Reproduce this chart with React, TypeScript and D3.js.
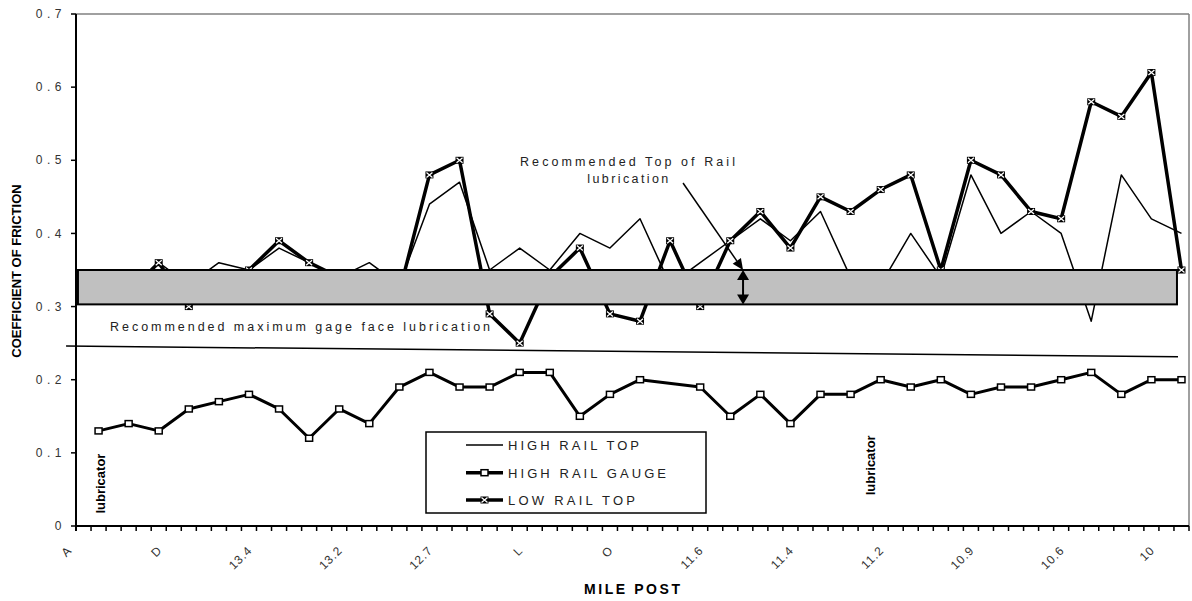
import React from "react";
import * as d3 from "d3";

// ---------- data ----------
const categoryCount = 74; // category slots on the axis (data on every other slot)
const tickLabels = ["A", "D", "13.4", "13.2", "12.7", "L", "O", "11.6", "11.4", "11.2", "10.9", "10.6", "10"];
const tickLabelEvery = 6;
const yTicks = [0, 0.1, 0.2, 0.3, 0.4, 0.5, 0.6, 0.7];

const highRailTop = [0.34, 0.32, 0.36, 0.33, 0.36, 0.35, 0.38, 0.36, 0.34, 0.36, 0.33, 0.44, 0.47, 0.35, 0.38, 0.35, 0.40, 0.38, 0.42, 0.33, 0.36, 0.39, 0.42, 0.39, 0.43, 0.34, 0.33, 0.40, 0.34, 0.48, 0.40, 0.43, 0.40, 0.28, 0.48, 0.42, 0.40];
const highRailGauge: (number | null)[] = [0.13, 0.14, 0.13, 0.16, 0.17, 0.18, 0.16, 0.12, 0.16, 0.14, 0.19, 0.21, 0.19, 0.19, 0.21, 0.21, 0.15, 0.18, 0.20, null, 0.19, 0.15, 0.18, 0.14, 0.18, 0.18, 0.20, 0.19, 0.20, 0.18, 0.19, 0.19, 0.20, 0.21, 0.18, 0.20, 0.20];
const lowRailTop = [0.33, 0.32, 0.36, 0.30, 0.34, 0.35, 0.39, 0.36, 0.34, 0.33, 0.32, 0.48, 0.50, 0.29, 0.25, 0.34, 0.38, 0.29, 0.28, 0.39, 0.30, 0.39, 0.43, 0.38, 0.45, 0.43, 0.46, 0.48, 0.35, 0.50, 0.48, 0.43, 0.42, 0.58, 0.56, 0.62, 0.35];
const seriesNames = ["HIGH RAIL TOP", "HIGH RAIL GAUGE", "LOW RAIL TOP"];

// annotations (category units on x, friction values on y)
const torBand = { x0: 0.13, x1: 73.2, y0: 0.303, y1: 0.35 };
const gageLimitLine = { x0: -0.66, x1: 73.27, y0: 0.246, y1: 0.2315 };
const torArrow = { x0: 40.36, y0: 0.469, x1: 44.35, y1: 0.35 };
const lubricatorMarks = [
  { x: 1.95, y: 0.017 },
  { x: 53.1, y: 0.042 },
];

const W = 1192;
const H = 601;
const left = 76;
const right = 1189;
const top = 14;
const bottom = 526;
const FONT = "'Liberation Sans', Arial, Helvetica, sans-serif";

export default function App() {
  const x = d3.scaleBand<number>().domain(d3.range(categoryCount)).range([left, right]).padding(0);
  const xl = d3.scaleLinear().domain([0, categoryCount]).range([left, right]);
  const y = d3.scaleLinear().domain([0, 0.7]).range([bottom, top]);
  const cx = (i: number) => (x(i) as number) + x.bandwidth() / 2;
  const px = (k: number) => cx(2 * k + 1);

  const pts = (arr: (number | null)[]) =>
    arr.map((v, k) => ({ k, v })).filter((d) => d.v !== null) as { k: number; v: number }[];

  const line = d3
    .line<{ k: number; v: number }>()
    .x((d) => px(d.k))
    .y((d) => y(d.v));

  const hrt = pts(highRailTop);
  const hrg = pts(highRailGauge);
  const lrt = pts(lowRailTop);

  // TOR arrow geometry
  const ax0 = xl(torArrow.x0), ay0 = y(torArrow.y0), ax1 = xl(torArrow.x1), ay1 = y(torArrow.y1);
  const len = Math.hypot(ax1 - ax0, ay1 - ay0);
  const ux = (ax1 - ax0) / len, uy = (ay1 - ay0) / len;
  const hl = 11, hw = 5;
  const bx = ax1 - ux * hl, by = ay1 - uy * hl;
  const head = `M${ax1},${ay1}L${bx - uy * hw},${by + ux * hw}L${bx + uy * hw},${by - ux * hw}Z`;

  const dax = xl(torArrow.x1);
  const dTop = y(torBand.y1);
  const dBot = y(torBand.y0);

  const xMarker = (mx: number, my: number, key: any) => (
    <g key={key} transform={`translate(${mx},${my})`}>
      <rect x={-4} y={-3.5} width={8} height={7} fill="#000" />
      <path d="M-3,-2.5L3,2.5M-3,2.5L3,-2.5" stroke="#fff" strokeWidth={1.3} />
    </g>
  );
  const sqMarker = (mx: number, my: number, key: any) => (
    <rect key={key} x={mx - 3.5} y={my - 3} width={7} height={6} fill="#fff" stroke="#000" strokeWidth={1.5} />
  );

  const legX0 = 466, legX1 = 503, legTextX = 508;
  const legRows = [445, 472.7, 500];
  const legLens = [131, 158, 127];

  return (
    <svg width={W} height={H} style={{ position: "absolute", left: 0, top: 0, background: "#fff" }} fontFamily={FONT}>
      <rect x={0} y={0} width={W} height={H} fill="#fff" />

      {/* series */}
      <path d={line(hrt) || ""} fill="none" stroke="#000" strokeWidth={1.5} strokeLinejoin="round" />
      <path d={line(lrt) || ""} fill="none" stroke="#000" strokeWidth={3.5} strokeLinejoin="round" />
      {lrt.map((d) => xMarker(px(d.k), y(d.v), "l" + d.k))}
      <path d={line(hrg) || ""} fill="none" stroke="#000" strokeWidth={3} strokeLinejoin="round" />
      {hrg.map((d) => sqMarker(px(d.k), y(d.v), "g" + d.k))}

      {/* recommended top-of-rail band */}
      <rect
        x={xl(torBand.x0)}
        y={y(torBand.y1)}
        width={xl(torBand.x1) - xl(torBand.x0)}
        height={y(torBand.y0) - y(torBand.y1)}
        fill="#c0c0c0"
        stroke="#000"
        strokeWidth={2}
      />

      {/* gage face limit line */}
      <line
        x1={xl(gageLimitLine.x0)}
        y1={y(gageLimitLine.y0)}
        x2={xl(gageLimitLine.x1)}
        y2={y(gageLimitLine.y1)}
        stroke="#000"
        strokeWidth={1.5}
      />
      <text x={110} y={331} fontSize={12.5} fill="#222" textLength={380} lengthAdjust="spacing">
        Recommended maximum gage face lubrication
      </text>

      {/* TOR annotation */}
      <text x={520} y={165.7} fontSize={12.5} fill="#222" textLength={215} lengthAdjust="spacing">
        Recommended Top of Rail
      </text>
      <text x={587.3} y={183.3} fontSize={12.5} fill="#222" textLength={81} lengthAdjust="spacing">
        lubrication
      </text>
      <line x1={ax0} y1={ay0} x2={bx} y2={by} stroke="#000" strokeWidth={1.5} />
      <path d={head} fill="#000" />
      <line x1={dax} y1={dTop + 8} x2={dax} y2={dBot - 8} stroke="#000" strokeWidth={2} />
      <path d={`M${dax},${dTop}L${dax - 6},${dTop + 10}L${dax + 6},${dTop + 10}Z`} fill="#000" />
      <path d={`M${dax},${dBot}L${dax - 6},${dBot - 10}L${dax + 6},${dBot - 10}Z`} fill="#000" />

      {/* lubricator labels */}
      {lubricatorMarks.map((m, i) => (
        <text
          key={i}
          transform={`translate(${xl(m.x)},${y(m.y)}) rotate(-90)`}
          fontSize={13}
          fontWeight="bold"
          fill="#000"
        >
          lubricator
        </text>
      ))}

      {/* frame */}
      <line x1={left} y1={top} x2={right} y2={top} stroke="#808080" strokeWidth={1.5} />
      <line x1={right} y1={top} x2={right} y2={bottom} stroke="#808080" strokeWidth={1.5} />
      <line x1={left} y1={top} x2={left} y2={bottom + 5} stroke="#000" strokeWidth={2} />
      <line x1={left - 1} y1={bottom} x2={right} y2={bottom} stroke="#000" strokeWidth={2} />

      {/* y axis */}
      {yTicks.map((t) => (
        <g key={t}>
          <line x1={left - 5} x2={left} y1={y(t)} y2={y(t)} stroke="#000" strokeWidth={1.5} />
          <text x={66} y={y(t)} dy="0.35em" textAnchor="end" fontSize={12} letterSpacing={4.5} fill="#333">
            {d3.format(".1~f")(t)}
          </text>
        </g>
      ))}

      {/* x axis ticks */}
      {d3.range(categoryCount + 1).map((i) => (
        <line key={i} x1={xl(i)} x2={xl(i)} y1={bottom} y2={bottom + 5} stroke="#000" strokeWidth={1.5} />
      ))}
      {tickLabels.map((lab, j) => (
        <text
          key={lab + j}
          transform={`translate(${cx(j * tickLabelEvery) - 11},${551}) rotate(-45)`}
          textAnchor="end"
          fontSize={12}
          letterSpacing={1}
          fill="#333"
        >
          {lab}
        </text>
      ))}

      {/* axis titles */}
      <text
        transform={`translate(21,${(top + bottom) / 2 + 1}) rotate(-90)`}
        textAnchor="middle"
        fontSize={13}
        fontWeight="bold"
        fill="#000"
      >
        COEFFICIENT OF FRICTION
      </text>
      <text x={584} y={594} fontSize={14} fontWeight="bold" fill="#000" textLength={96} lengthAdjust="spacing">
        MILE POST
      </text>

      {/* legend */}
      <rect x={426} y={432} width={280} height={81} fill="#fff" stroke="#000" strokeWidth={1.5} />
      <line x1={legX0} x2={legX1} y1={legRows[0]} y2={legRows[0]} stroke="#000" strokeWidth={1.5} />
      <line x1={legX0} x2={legX1} y1={legRows[1]} y2={legRows[1]} stroke="#000" strokeWidth={3.5} />
      {sqMarker((legX0 + legX1) / 2, legRows[1], "lg")}
      <line x1={legX0} x2={legX1} y1={legRows[2]} y2={legRows[2]} stroke="#000" strokeWidth={3.5} />
      {xMarker((legX0 + legX1) / 2, legRows[2], "ll")}
      {seriesNames.map((n, i) => (
        <text key={n} x={legTextX} y={legRows[i] + 4.8} fontSize={13} fill="#222" textLength={legLens[i]} lengthAdjust="spacing">
          {n}
        </text>
      ))}
    </svg>
  );
}
